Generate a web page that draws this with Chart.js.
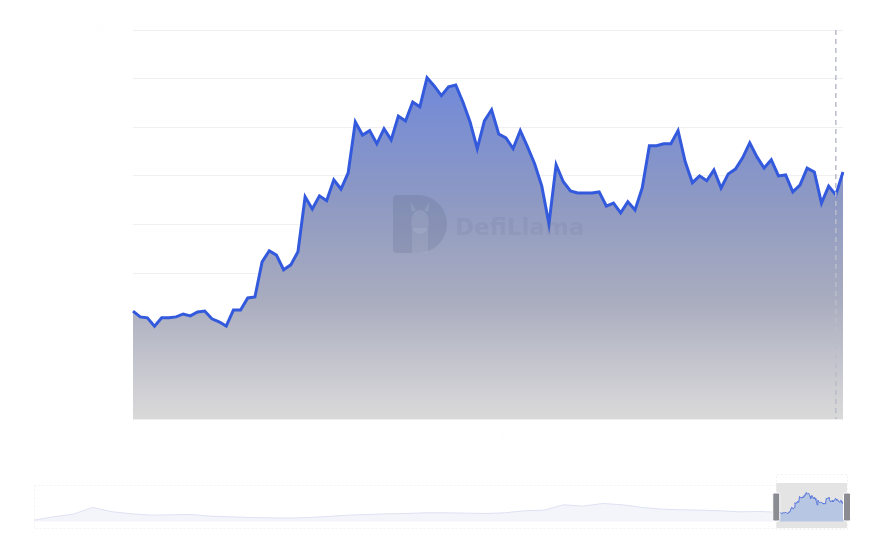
<!DOCTYPE html>
<html><head><meta charset="utf-8">
<script src="https://cdn.jsdelivr.net/npm/chart.js@4"></script>
<style>
html,body{margin:0;padding:0;background:#fff;}
#wrap{position:relative;width:873px;height:540px;overflow:hidden;}
#main{position:absolute;left:0;top:0;}
#nav{position:absolute;left:0;top:460px;}
</style></head><body>
<div id="wrap">
<canvas id="main" width="873" height="460"></canvas>
<canvas id="nav" width="873" height="80"></canvas>
</div>
<script>
// ---- data ----
const startDate = '2024-08-15';
const values = [
 22.2,21.0,20.8,19.1,20.8,20.8,21.0,21.6,21.2,22.0,
 22.2,20.6,20.0,19.1,22.4,22.4,24.9,25.1,32.3,34.6,
 33.7,30.7,31.7,34.4,45.7,43.2,45.9,44.9,49.2,47.3,
 50.6,61.1,58.4,59.3,56.6,59.7,57.4,62.3,61.3,65.2,
 64.2,70.2,68.5,66.5,68.3,68.7,65.2,61.1,55.6,61.3,
 63.6,58.6,57.8,55.6,59.3,56.0,52.5,47.9,40.1,52.3,
 48.8,46.9,46.5,46.5,46.5,46.7,43.8,44.4,42.4,44.7,
 43.0,47.5,56.2,56.2,56.6,56.6,59.3,52.9,48.6,50.0,
 49.0,51.2,47.5,50.4,51.4,53.7,56.8,53.9,51.6,53.3,
 50.0,50.2,46.7,48.1,51.6,50.8,44.4,47.9,46.1,50.8
];
// monthly history shown in the navigator (before the selected window)
const history = [
 3.1,11.3,17.8,34.2,23.5,18.6,15.4,16.2,17.0,12.9,
 11.3,9.6,8.8,8.0,9.6,12.1,15.4,17.0,18.6,19.4,
 21.1,21.1,20.3,19.4,21.1,26.0,27.6,40.7,37.4,43.9,
 40.7,34.2,30.1,28.4,27.6,26.0,23.5,24.3
];
const historyStepDays = 30;
const windowStartDay = 1140;
const yTicks = [0,10,20,30,40,50,60,70,80];
const hoverIndex = 98;

const labels = values.map((_, i) => {
  const d = new Date(startDate + 'T00:00:00Z');
  d.setUTCDate(d.getUTCDate() + i);
  return d.toLocaleDateString('en-US', {month:'short', day:'numeric', timeZone:'UTC'});
});

// ---- main chart ----
const crosshair = {
  id:'crosshair',
  afterDatasetsDraw(chart){
    const {ctx, chartArea:ca, scales:{x}} = chart;
    const px = x.getPixelForValue(hoverIndex);
    ctx.save();
    ctx.strokeStyle = '#b9bdc9';
    ctx.lineWidth = 1.5;
    ctx.setLineDash([5,4]);
    ctx.beginPath(); ctx.moveTo(px, ca.top); ctx.lineTo(px, ca.bottom); ctx.stroke();
    ctx.restore();
  }
};
const watermark = {
  id:'watermark',
  afterDatasetsDraw(chart){
    const {ctx} = chart;
    ctx.save();
    ctx.fillStyle = 'rgba(70,80,115,0.16)';
    const lx = 393, ly = 195, lw = 54, lh = 58, r = 29;
    ctx.beginPath();
    ctx.moveTo(lx+4, ly);
    ctx.lineTo(lx+lw-r, ly);
    ctx.arc(lx+lw-r, ly+r, r, -Math.PI/2, Math.PI/2);
    ctx.lineTo(lx+4, ly+lh);
    ctx.quadraticCurveTo(lx, ly+lh, lx, ly+lh-4);
    ctx.lineTo(lx, ly+4);
    ctx.quadraticCurveTo(lx, ly, lx+4, ly);
    ctx.closePath(); ctx.fill();
    ctx.fillStyle = 'rgba(200,205,225,0.18)';
    ctx.beginPath();
    ctx.ellipse(420, 222, 9, 12, 0, 0, Math.PI*2);
    ctx.fill();
    ctx.fillRect(412, 228, 16, 25);
    ctx.beginPath(); ctx.moveTo(412,212); ctx.lineTo(410,202); ctx.lineTo(416,210); ctx.fill();
    ctx.beginPath(); ctx.moveTo(428,212); ctx.lineTo(430,202); ctx.lineTo(424,210); ctx.fill();
    ctx.fillStyle = 'rgba(80,90,125,0.09)';
    ctx.font = 'bold 23px "DejaVu Sans", sans-serif';
    ctx.textBaseline = 'middle';
    ctx.fillText('DefiLlama', 455, 229);
    ctx.restore();
  }
};

new Chart(document.getElementById('main'), {
  type:'line',
  data:{ labels, datasets:[{
    data: values,
    borderColor:'#3359dc',
    borderWidth:3,
    pointRadius:0,
    tension:0,
    fill:'origin',
    backgroundColor(ctx){
      const ca = ctx.chart.chartArea;
      if(!ca) return 'rgba(150,160,200,0.6)';
      const g = ctx.chart.ctx.createLinearGradient(0, ca.top, 0, ca.bottom);
      g.addColorStop(0, '#6582e0');
      g.addColorStop(0.13, '#7189d8');
      g.addColorStop(0.44, '#8e99c3');
      g.addColorStop(0.70, '#aaadbf');
      g.addColorStop(0.95, '#d3d3d6');
      g.addColorStop(1, '#d9d9d9');
      return g;
    }
  }]},
  options:{
    responsive:false, animation:false,
    layout:{padding:{left:0, right:30, top:30, bottom:0}},
    plugins:{legend:{display:false}, tooltip:{enabled:false}},
    scales:{
      x:{
        grid:{display:false}, border:{display:false},
        ticks:{color:'#fefefe', maxRotation:0, autoSkip:true, maxTicksLimit:4, font:{size:12}},
        afterFit(s){ s.height = 41; }
      },
      y:{
        min:0, max:80,
        afterBuildTicks(s){ s.ticks = yTicks.map(v=>({value:v})); },
        grid:{color:'#f0f0f0', drawTicks:false},
        border:{display:false},
        ticks:{color:'#fefefe', padding:8, font:{size:12}, callback:v=>'$'+v+'m'},
        afterFit(s){ s.width = 133; }
      }
    }
  },
  plugins:[watermark, crosshair]
});

// ---- navigator ----
const navHist = history.map((v,i)=>({x:i*historyStepDays, y:v}));
navHist.push({x:windowStartDay, y:values[0]});
const navWin = values.map((v,j)=>({x:windowStartDay+j, y:v}));
const lastDay = windowStartDay + values.length - 1;

const navWindow = {
  id:'navWindow',
  beforeDatasetsDraw(chart){
    const {ctx, chartArea:ca, scales:{x}} = chart;
    const l = x.getPixelForValue(windowStartDay) - 3, r = x.getPixelForValue(lastDay) + 3;
    ctx.save();
    ctx.strokeStyle = '#f2f2f2'; ctx.lineWidth = 1; ctx.setLineDash([2,2]);
    ctx.strokeRect(ca.left+0.5, ca.top+0.5, ca.right-ca.left, ca.bottom-ca.top);
    ctx.strokeRect(l+0.5, ca.top-10.5, r-l, ca.bottom-ca.top+12);
    ctx.setLineDash([]);
    ctx.fillStyle = '#e4e4e4';
    ctx.fillRect(l, ca.top-2, r-l, ca.bottom-ca.top+2);
    ctx.restore();
  },
  afterDatasetsDraw(chart){
    const {ctx, chartArea:ca, scales:{x}} = chart;
    const l = x.getPixelForValue(windowStartDay) - 3, r = x.getPixelForValue(lastDay) + 3;
    ctx.save();
    [l, r].forEach(px=>{
      ctx.fillStyle = '#8a8c92';
      ctx.strokeStyle = '#ffffff';
      ctx.lineWidth = 1;
      ctx.beginPath();
      ctx.roundRect(px-3.5, ca.top+8, 7, 28, 1.5);
      ctx.fill(); ctx.stroke();
    });
    ctx.restore();
  }
};

new Chart(document.getElementById('nav'), {
  type:'line',
  data:{ datasets:[
    {data:navHist, borderColor:'#dde1f2', borderWidth:1, pointRadius:0, tension:0, fill:'origin', backgroundColor:'#f4f5fb'},
    {data:navWin, borderColor:'#5a78dc', borderWidth:1, pointRadius:0, tension:0, fill:'origin', backgroundColor:'#b7c6e2'}
  ]},
  options:{
    responsive:false, animation:false,
    layout:{padding:{left:34, right:29, top:25, bottom:12}},
    plugins:{legend:{display:false}, tooltip:{enabled:false}},
    scales:{
      x:{type:'linear', min:0, max:lastDay, display:false},
      y:{min:-16, max:89, display:false}
    }
  },
  plugins:[navWindow]
});
</script>
</body></html>
